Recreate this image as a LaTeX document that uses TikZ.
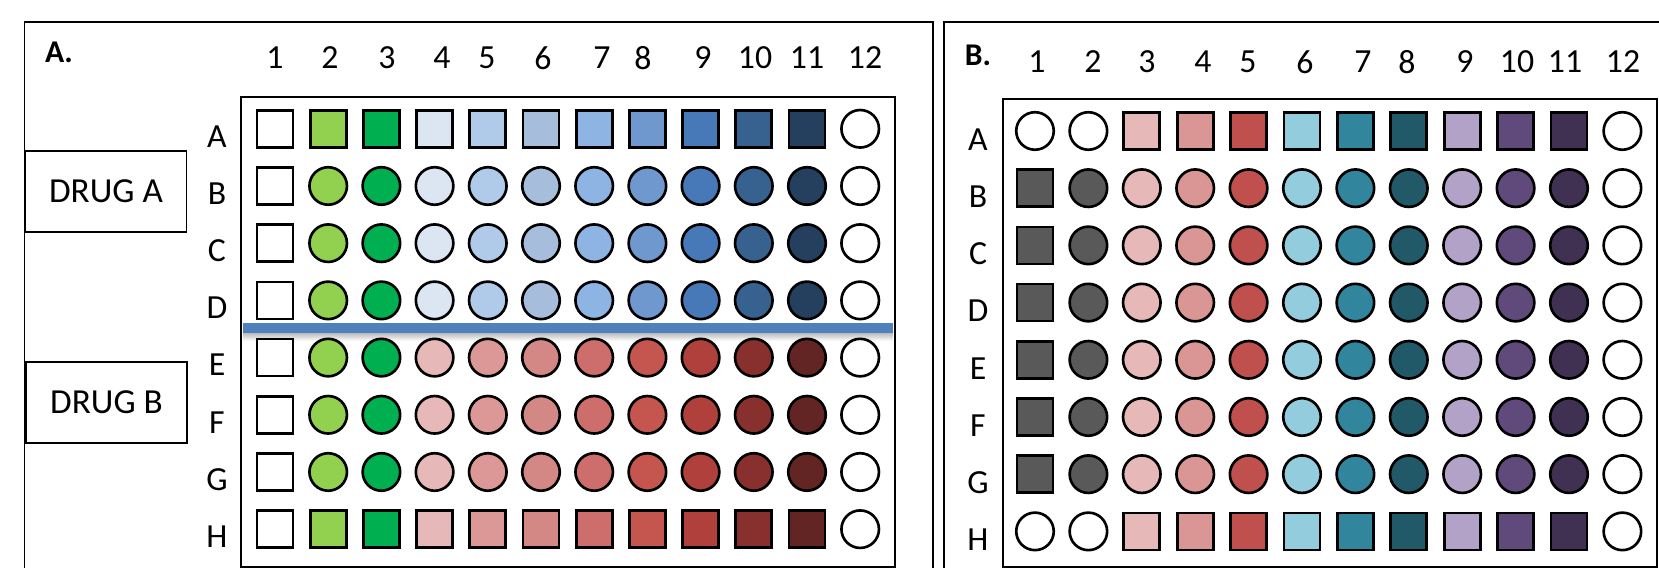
\documentclass[tikz,border=0pt]{standalone}
\usepackage{fontspec}
\setmainfont{Carlito}
\usepackage{tikz}
\usetikzlibrary{positioning,calc}
\definecolor{sepblue}{HTML}{4F81BD}
\definecolor{grnlt}{HTML}{92D050}
\definecolor{grndk}{HTML}{00B050}
\colorlet{atop1}{white}
\colorlet{atop2}{grnlt}
\colorlet{atop3}{grndk}
\definecolor{atop4}{HTML}{DCE6F2}
\definecolor{atop5}{HTML}{B0CBEA}
\definecolor{atop6}{HTML}{A6BDDB}
\definecolor{atop7}{HTML}{8EB4E3}
\definecolor{atop8}{HTML}{6F98CE}
\definecolor{atop9}{HTML}{4779B8}
\definecolor{atop10}{HTML}{37618F}
\definecolor{atop11}{HTML}{253F5F}
\colorlet{atop12}{white}
\colorlet{abot1}{white}
\colorlet{abot2}{grnlt}
\colorlet{abot3}{grndk}
\definecolor{abot4}{HTML}{E6B9B8}
\definecolor{abot5}{HTML}{DB9896}
\definecolor{abot6}{HTML}{D48886}
\definecolor{abot7}{HTML}{CD6E6C}
\definecolor{abot8}{HTML}{C4554F}
\definecolor{abot9}{HTML}{B0403B}
\definecolor{abot10}{HTML}{88302D}
\definecolor{abot11}{HTML}{632523}
\colorlet{abot12}{white}
\definecolor{pb1}{HTML}{595959}
\definecolor{pb2}{HTML}{595959}
\definecolor{pb3}{HTML}{E6B9B8}
\definecolor{pb4}{HTML}{D99694}
\definecolor{pb5}{HTML}{C0504D}
\definecolor{pb6}{HTML}{93CDDD}
\definecolor{pb7}{HTML}{31859C}
\definecolor{pb8}{HTML}{215968}
\definecolor{pb9}{HTML}{B3A2C7}
\definecolor{pb10}{HTML}{604A7B}
\definecolor{pb11}{HTML}{403152}
\colorlet{pb12}{white}
\tikzset{
  wellsq/.style={
    rectangle, draw=black, line width=0.75pt,
    minimum width=0.36cm, minimum height=0.37cm, inner sep=0pt
  },
  wellci/.style={
    circle, draw=black, line width=0.75pt,
    minimum size=0.375cm, inner sep=0pt
  },
  collbl/.style={inner sep=0pt, font=\fontsize{9.6}{11}\selectfont},
  rowlbl/.style={inner sep=0pt, font=\fontsize{9.6}{11}\selectfont},
  panellbl/.style={inner sep=0pt, font=\fontsize{9}{11}\selectfont\bfseries},
  drugbox/.style={
    rectangle, draw=black, line width=0.5pt, fill=white,
    minimum width=1.61cm, minimum height=0.81cm,
    font=\fontsize{10}{12}\selectfont
  },
  framebox/.style={draw=black, line width=0.5pt},
  platebox/.style={draw=black, line width=0.6pt},
  sepline/.style={draw=sepblue, line width=2.8pt}
}

\begin{document}
\begin{tikzpicture}[x=0.01cm, y=-0.01cm]
  \useasboundingbox (0,0) rectangle (1659,568);
  \clip (0,0) rectangle (1659,568);

  % panel A
  \draw[framebox] (24.5,22) rectangle (933,620);
  \draw[platebox] (241,97) rectangle (895,567);
  \node[panellbl] (lbl_a) at (59,52) {A.};
  \node[drugbox] (drug_a) at (106,191.5) {DRUG A};
  \node[drugbox] (drug_b) at (106.5,402.5) {DRUG B};
  \shade[top color=black!30, bottom color=white] (243,332) rectangle (893,341);
  \draw[sepline] (243,328) -- (893,328);
  \foreach \x [count=\cc] in {275,330,387,442,487,543,602,643,703,755,807,865}
    \node[collbl] (a_col\cc) at (\x,58) {\cc};
  \foreach \rw [count=\ri] in {A,B,C,D,E,F,G,H}{
    \node[rowlbl] (a_row\rw) at (217,{136.3+57.2*(\ri-1)}) {\rw};
    \foreach \cc in {1,...,12}{
      \ifnum\ri<5 \def\wfill{atop\cc}\else\def\wfill{abot\cc}\fi
      \def\wshape{wellci}
      \ifnum\cc<12 \ifnum\ri=1 \def\wshape{wellsq}\fi\ifnum\ri=8 \def\wshape{wellsq}\fi\fi
      \ifnum\cc=1 \def\wshape{wellsq}\fi
      \node[\wshape, fill=\wfill] (a_\rw\cc) at ({275+53.2*(\cc-1)},{128.8+57.2*(\ri-1)}) {};
    }
  }

  % panel B
  \draw[framebox] (944,22) rectangle (1720,620);
  \draw[platebox] (1003,99) rectangle (1657,567);
  \node[panellbl] (lbl_b) at (978,55) {B.};
  \foreach \x [count=\cc] in {1037,1093,1147,1203,1248,1305,1363,1407,1465,1517,1565,1623}
    \node[collbl] (b_col\cc) at (\x,62) {\cc};
  \foreach \rw [count=\ri] in {A,B,C,D,E,F,G,H}{
    \node[rowlbl] (b_row\rw) at (978,{139.5+57.2*(\ri-1)}) {\rw};
    \foreach \cc in {1,...,12}{
      \def\wfill{pb\cc}
      \def\wshape{wellci}
      \def\edge{0}
      \ifnum\ri=1 \def\edge{1}\fi
      \ifnum\ri=8 \def\edge{1}\fi
      \ifnum\edge=1
        \ifnum\cc<3 \def\wfill{white}\else\ifnum\cc<12 \def\wshape{wellsq}\fi\fi
      \else
        \ifnum\cc=1 \def\wshape{wellsq}\fi
      \fi
      \node[\wshape, fill=\wfill] (b_\rw\cc) at ({1035+53.4*(\cc-1)},{131+57.2*(\ri-1)}) {};
    }
  }
\end{tikzpicture}
\end{document}
